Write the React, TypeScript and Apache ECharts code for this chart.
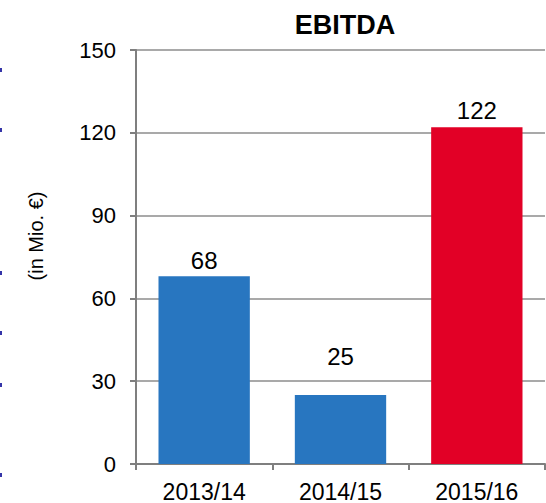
import React, { useEffect, useRef } from "react";
import * as echarts from "echarts";

const categories = ["2013/14", "2014/15", "2015/16"];
const values = [68, 25, 122];
const barColors = ["#2876c0", "#2876c0", "#e20026"];
const labelDistances = [4, 27, 5];
const yTicks = { min: 0, max: 150, interval: 30 };
const titleText = "EBITDA";
const yAxisName = "(in Mio. €)";
const edgeMarksY = [68, 128, 271, 331, 383, 473];

export default function App() {
  const ref = useRef<HTMLDivElement>(null);
  useEffect(() => {
    if (!ref.current) return;
    const chart = echarts.init(ref.current, null, { renderer: "svg" });
    const font = "Liberation Sans, Arial, sans-serif";
    chart.setOption({
      animation: false,
      title: {
        text: titleText,
        left: 340,
        top: 6,
        textAlign: "center",
        textStyle: { fontFamily: font, fontSize: 27, fontWeight: "bold", color: "#000" },
      },
      grid: { left: 136, right: 1, top: 50, bottom: 39, containLabel: false },
      xAxis: {
        type: "category",
        data: categories,
        axisLine: { lineStyle: { color: "#7f7f7f", width: 2 } },
        axisTick: { show: true, length: 6, lineStyle: { color: "#7f7f7f", width: 2 } },
        axisLabel: { fontFamily: font, fontSize: 23, color: "#000", margin: 16 },
      },
      yAxis: {
        type: "value",
        min: yTicks.min,
        max: yTicks.max,
        interval: yTicks.interval,
        axisLine: { show: true, lineStyle: { color: "#7f7f7f", width: 2 } },
        axisTick: { show: true, length: 6, lineStyle: { color: "#7f7f7f", width: 2 } },
        axisLabel: { fontFamily: font, fontSize: 22, color: "#000", margin: 20 },
        splitLine: { lineStyle: { color: "#8c8c8c", width: 1.5 } },
      },
      series: [
        {
          type: "bar",
          data: values.map((v, i) => ({
            value: v,
            itemStyle: { color: barColors[i] },
            label: { distance: labelDistances[i] },
          })),
          barWidth: "67%",
          label: {
            show: true,
            position: "top",
            fontFamily: font,
            fontSize: 24,
            color: "#000",
          },
        },
      ],
      graphic: [
        {
          type: "text",
          x: 36,
          y: 236,
          rotation: Math.PI / 2,
          style: {
            text: yAxisName,
            fontFamily: font,
            fontSize: 20,
            fill: "#000",
            align: "center",
            verticalAlign: "middle",
          },
        },
        ...edgeMarksY.map((y) => ({
          type: "rect",
          shape: { x: 0, y, width: 2, height: 4 },
          style: { fill: "#3535a8" },
        })),
      ],
    });
    return () => chart.dispose();
  }, []);
  return (
    <div
      ref={ref}
      style={{ position: "absolute", left: 0, top: 0, width: 546, height: 503 }}
    />
  );
}
